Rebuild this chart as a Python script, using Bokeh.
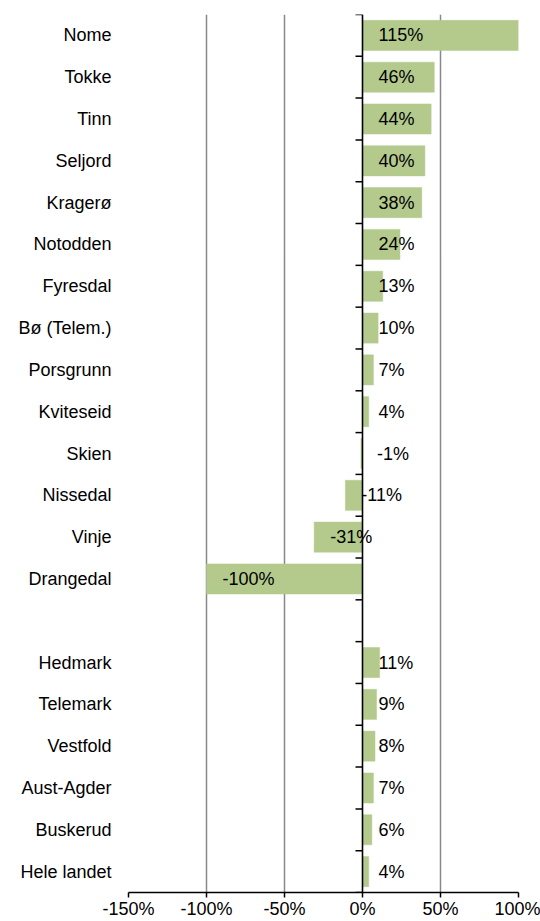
from bokeh.plotting import figure
from bokeh.models import ColumnDataSource, Range1d, FixedTicker, PrintfTickFormatter, Span
from bokeh.core.properties import value
from bokeh.embed import file_html
from bokeh.resources import INLINE

categories = ["Nome", "Tokke", "Tinn", "Seljord", "Kragerø", "Notodden", "Fyresdal",
              "Bø (Telem.)", "Porsgrunn", "Kviteseid", "Skien", "Nissedal", "Vinje",
              "Drangedal", "", "Hedmark", "Telemark", "Vestfold", "Aust-Agder",
              "Buskerud", "Hele landet"]
values = [115, 46, 44, 40, 38, 24, 13, 10, 7, 4, -1, -11, -31, -100,
          None, 11, 9, 8, 7, 6, 4]
x_ticks = [-150, -100, -50, 0, 50, 100]

FONT = "Liberation Sans"
FS = "18px"
BAR = "#b3ca8c"

n = len(categories)
ys = [n - i - 0.5 for i in range(n)]
rows = [(c, v, y) for c, v, y in zip(categories, values, ys) if v is not None]

src = ColumnDataSource(dict(
    y=[r[2] for r in rows],
    v=[r[1] for r in rows],
    zero=[0] * len(rows),
    lx=[min(r[1], 0) for r in rows],
    lab=[f"{r[1]}%" for r in rows],
))

p = figure(width=540, height=921, output_backend="svg", toolbar_location=None,
           x_range=Range1d(-150, 100), y_range=Range1d(0, n),
           min_border_left=128, min_border_top=14, min_border_right=22,
           min_border_bottom=0)
p.outline_line_color = None
p.background_fill_color = "white"
p.border_fill_color = "white"

# grid
p.ygrid.grid_line_color = None
p.xgrid.ticker = FixedTicker(ticks=[t for t in x_ticks if t != 0])
p.xgrid.grid_line_color = "#888888"
p.xgrid.grid_line_width = 1.5

# bars
p.hbar(y="y", left="zero", right="v", height=0.72, source=src,
       fill_color=BAR, line_color=BAR, line_width=0.5)

# zero axis line and its boundary ticks
p.add_layout(Span(location=0, dimension="height", line_color="black", line_width=1.6))
p.ray(x=[0] * (n + 1), y=list(range(n + 1)), length=7, length_units="screen",
      angle=3.14159265, line_color="black", line_width=1.5)

# value labels
p.text(x="lx", y="y", text="lab", source=src, x_offset=16,
       text_align="left", text_baseline="middle",
       text_font=value(FONT), text_font_size=FS, text_color="black")

# x axis
xa = p.xaxis[0]
xa.ticker = FixedTicker(ticks=x_ticks)
xa.formatter = PrintfTickFormatter(format="%d%%")
xa.axis_line_color = "black"
xa.axis_line_width = 1.5
xa.major_tick_line_color = "black"
xa.major_tick_line_width = 1.5
xa.major_tick_in = 0
xa.major_tick_out = 5
xa.minor_tick_line_color = None
xa.major_label_standoff = 1
xa.major_label_text_font = FONT
xa.major_label_text_font_size = FS
xa.major_label_text_color = "black"

# y axis (category labels only)
ya = p.yaxis[0]
ya.ticker = FixedTicker(ticks=ys)
ya.major_label_overrides = {y: c for y, c in zip(ys, categories)}
ya.axis_line_color = None
ya.major_tick_line_color = None
ya.major_tick_in = 0
ya.major_tick_out = 0
ya.minor_tick_line_color = None
ya.major_label_standoff = 17
ya.major_label_text_font = FONT
ya.major_label_text_font_size = FS
ya.major_label_text_color = "black"

open("out.html", "w").write(file_html(p, INLINE))
